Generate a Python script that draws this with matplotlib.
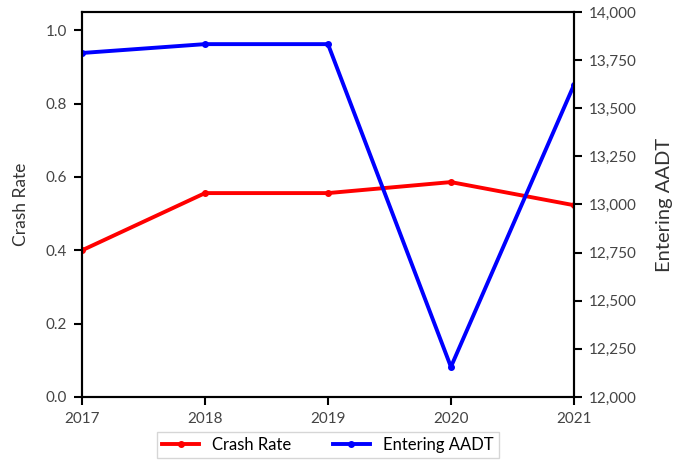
import matplotlib.pyplot as plt

plt.rcParams['font.family'] = ['Lato', 'DejaVu Sans']

years = [2017, 2018, 2019, 2020, 2021]
crash_rate = [0.40, 0.556, 0.556, 0.586, 0.523]
aadt = [13787, 13833, 13833, 12156, 13620]

fig = plt.figure(figsize=(6.84, 4.61), dpi=100)
ax = fig.add_axes([0.12, 0.139, 0.719, 0.835])
ax2 = ax.twinx()

l1, = ax.plot(years, crash_rate, color='#ff0000', lw=2.8, marker='o', ms=4, label='Crash Rate')
l2, = ax2.plot(years, aadt, color='#0000ff', lw=2.8, marker='o', ms=4, label='Entering AADT')

ax.set_xlim(2017, 2021)
ax.set_xticks(years)
ax.set_ylim(0, 1.05)
ax.set_yticks([0, 0.2, 0.4, 0.6, 0.8, 1.0])
ax.set_yticklabels(['0.0', '0.2', '0.4', '0.6', '0.8', '1.0'])
ax2.set_ylim(12000, 14000)
ax2.set_yticks(range(12000, 14001, 250))
ax2.set_yticklabels([f'{v:,}' for v in range(12000, 14001, 250)])

ax.set_ylabel('Crash Rate', fontsize=12.5, color='#333333', labelpad=12)
ax2.set_ylabel('Entering AADT', fontsize=14.5, color='#333333', labelpad=14)

for a in (ax, ax2):
    a.tick_params(labelsize=11, labelcolor='#444444', width=1.5, length=6, pad=5)
    for s in a.spines.values():
        s.set_linewidth(1.5)

ax.legend(handles=[l1, l2], loc='upper center', bbox_to_anchor=(0.5, -0.07),
          ncol=2, fontsize=12, frameon=True, fancybox=False, edgecolor='#cccccc',
          handlelength=2.2, columnspacing=2.5, borderpad=0.3)

fig.savefig('out.png', dpi=100)
